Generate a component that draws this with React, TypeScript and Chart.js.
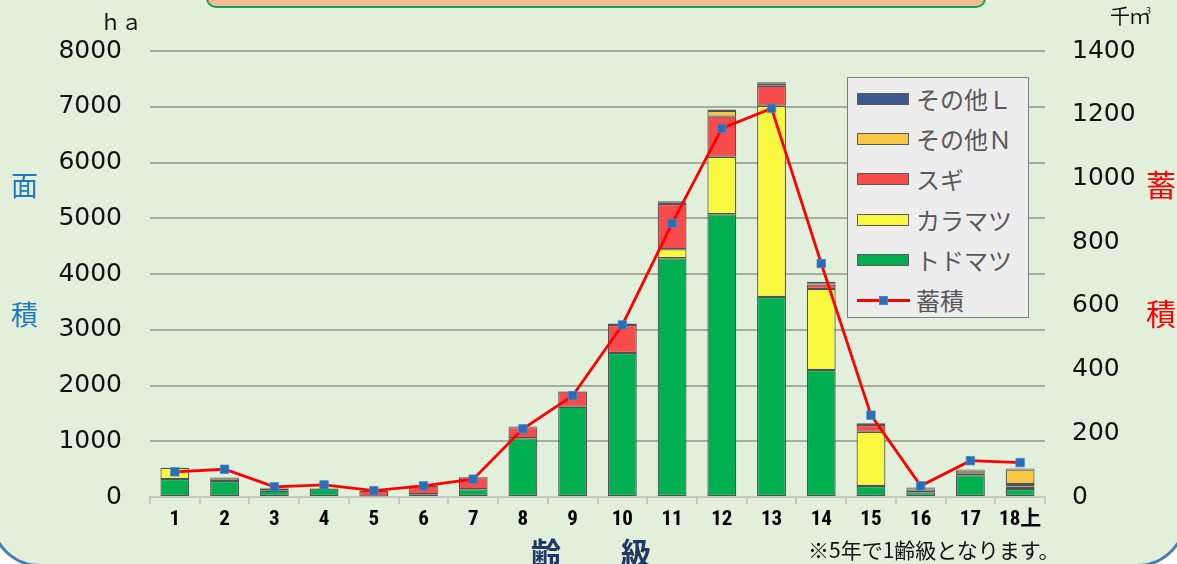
import React, { useEffect, useRef } from 'react';
import { Chart, registerables } from 'chart.js';

Chart.register(...registerables);

// ---- data ----
const categories = ['1', '2', '3', '4', '5', '6', '7', '8', '9', '10', '11', '12', '13', '14', '15', '16', '17', '18上'];
const todomatsu = [323, 287, 113, 150, 12, 50, 138, 1053, 1620, 2583, 4282, 5071, 3587, 2278, 197, 85, 389, 143];
const karamatsu = [200, 50, 0, 0, 0, 0, 0, 0, 0, 0, 161, 1033, 3431, 1453, 974, 50, 0, 45];
const sugi = [0, 0, 40, 0, 100, 150, 215, 200, 270, 500, 813, 718, 359, 80, 120, 20, 35, 45];
const otherN = [0, 0, 0, 0, 0, 0, 0, 0, 0, 0, 20, 100, 43, 25, 0, 0, 50, 260];
const otherL = [0, 15, 15, 6, 0, 10, 6, 10, 6, 30, 30, 30, 20, 25, 30, 15, 20, 20];
const stock = [79, 87, 32, 38, 20, 35, 56, 214, 318, 540, 859, 1157, 1220, 733, 257, 35, 114, 108];

const areaMax = 8000;
const areaStep = 1000;
const stockMax = 1400;
const stockStep = 200;

const seriesNames = ['トドマツ', 'カラマツ', 'スギ', 'その他Ｎ', 'その他Ｌ', '蓄積'];

// ---- styles ----
const COLORS = {
  green: '#00B050',
  yellow: '#F8F840',
  red: '#F84B4B',
  orange: '#F6C843',
  navy: '#3E5A8C',
  line: '#FF0000',
  marker: '#2A6DB5',
};
const BG = '#E2EFDA';
const JP = "'Noto Sans CJK JP', 'Noto Sans', sans-serif";

export default function App() {
  const canvasRef = useRef<HTMLCanvasElement | null>(null);

  useEffect(() => {
    const canvas = canvasRef.current;
    if (!canvas) return;
    const barDs = (label: string, data: number[], color: string) => ({
      type: 'bar' as const,
      label,
      data,
      backgroundColor: color,
      borderColor: '#525252',
      borderWidth: 1.2,
      borderSkipped: false as const,
      yAxisID: 'y',
      order: 1,
      barPercentage: 0.58,
      categoryPercentage: 1,
    });
    const chart = new Chart(canvas, {
      type: 'bar',
      data: {
        labels: categories,
        datasets: [
          {
            type: 'line',
            label: seriesNames[5],
            data: stock,
            yAxisID: 'y1',
            borderColor: COLORS.line,
            borderWidth: 2.8,
            pointStyle: 'rect',
            pointRadius: 6,
            pointBackgroundColor: COLORS.marker,
            pointBorderColor: 'rgba(70,140,215,0.8)',
            pointBorderWidth: 1,
            order: 0,
            tension: 0,
          } as any,
          barDs(seriesNames[0], todomatsu, COLORS.green),
          barDs(seriesNames[1], karamatsu, COLORS.yellow),
          barDs(seriesNames[2], sugi, COLORS.red),
          barDs(seriesNames[3], otherN, COLORS.orange),
          barDs(seriesNames[4], otherL, COLORS.navy),
        ],
      },
      options: {
        responsive: false,
        animation: false,
        devicePixelRatio: 1,
        layout: { padding: { top: 51, left: 0, right: 0, bottom: 0 } },
        plugins: { legend: { display: false }, tooltip: { enabled: false } },
        scales: {
          x: {
            stacked: true,
            grid: {
              offset: true,
              drawOnChartArea: false,
              drawTicks: true,
              tickLength: 7,
              color: '#C4C8C0',
              lineWidth: 2,
            },
            border: { display: true, color: '#C4C8C0', width: 2 },
            ticks: {
              color: '#000',
              padding: 3,
              maxRotation: 0,
              autoSkip: false,
              font: {
                family: "'Liberation Sans Narrow', 'Roboto Condensed', 'DejaVu Sans Condensed', 'Noto Sans CJK JP', sans-serif",
                size: 21,
                weight: 'bold',
              },
            },
            afterFit: (s: any) => { s.height = 67; },
          },
          y: {
            stacked: true,
            position: 'left',
            min: 0,
            max: areaMax,
            ticks: {
              stepSize: areaStep,
              color: '#111',
              padding: 28,
              font: { family: "'DejaVu Sans', sans-serif", size: 25 },
              callback: (v: any) => String(v),
            },
            grid: {
              color: (ctx: any) => (ctx.tick && ctx.tick.value === 0 ? 'rgba(0,0,0,0)' : '#A4AD9E'),
              lineWidth: 2,
              drawTicks: false,
            },
            border: { display: false },
            afterFit: (s: any) => { s.width = 150; },
          },
          y1: {
            position: 'right',
            min: 0,
            max: stockMax,
            ticks: {
              stepSize: stockStep,
              color: '#111',
              padding: 27,
              font: { family: "'DejaVu Sans', sans-serif", size: 25 },
              callback: (v: any) => String(v),
            },
            grid: { display: false, drawTicks: false },
            border: { display: false },
            afterFit: (s: any) => { s.width = 132; },
          },
        },
      } as any,
    });
    return () => chart.destroy();
  }, []);

  const legendItems = [
    { label: seriesNames[4], color: COLORS.navy },
    { label: seriesNames[3], color: COLORS.orange },
    { label: seriesNames[2], color: COLORS.red },
    { label: seriesNames[1], color: COLORS.yellow },
    { label: seriesNames[0], color: COLORS.green },
  ];

  return (
    <div style={{ position: 'fixed', left: 0, top: 0, width: 1177, height: 564, background: '#fff', overflow: 'hidden' }}>
      <div
        style={{
          position: 'absolute', left: -10, top: -60, width: 1197, height: 627,
          boxSizing: 'border-box', border: '3px solid #4A7EB0', borderRadius: 50, background: BG,
        }}
      />
      <div
        style={{
          position: 'absolute', left: 206, top: -30, width: 780, height: 38,
          boxSizing: 'border-box', border: '2.5px solid #18A04C', borderRadius: 10, background: '#F6BC96',
        }}
      />
      <canvas ref={canvasRef} width={1177} height={564} style={{ position: 'absolute', left: 0, top: 0, width: 1177, height: 564 }} />

      {/* axis unit labels */}
      <div style={{ position: 'absolute', left: 100, top: 9, fontFamily: JP, fontSize: 21, lineHeight: '24px', color: '#111' }}>ｈａ</div>
      <div style={{ position: 'absolute', left: 1110, top: 4, fontFamily: JP, fontSize: 20, lineHeight: '24px', color: '#111', whiteSpace: 'nowrap' }}>
        千ｍ<span style={{ fontSize: 9, position: 'relative', top: -10, left: -4 }}>3</span>
      </div>

      {/* axis titles */}
      <div style={{ position: 'absolute', left: 11, top: 168, fontFamily: JP, fontSize: 27, lineHeight: '34px', color: '#2277C0' }}>面</div>
      <div style={{ position: 'absolute', left: 11, top: 297, fontFamily: JP, fontSize: 27, lineHeight: '34px', color: '#2277C0' }}>積</div>
      <div style={{ position: 'absolute', left: 1146, top: 165, fontFamily: JP, fontSize: 30, lineHeight: '36px', color: '#FF0000' }}>蓄</div>
      <div style={{ position: 'absolute', left: 1146, top: 294, fontFamily: JP, fontSize: 30, lineHeight: '36px', color: '#FF0000' }}>積</div>

      {/* x axis title and note */}
      <div style={{ position: 'absolute', left: 531, top: 532, fontFamily: JP, fontSize: 30, fontWeight: 'bold', lineHeight: '38px', color: '#1F3864', whiteSpace: 'pre' }}>齢　　級</div>
      <div style={{ position: 'absolute', left: 808, top: 536, fontFamily: JP, fontSize: 21, lineHeight: '26px', color: '#111', whiteSpace: 'nowrap' }}>※5年で1齢級となります。</div>

      {/* legend */}
      <div
        style={{
          position: 'absolute', left: 847, top: 77, width: 182, height: 241,
          boxSizing: 'border-box', border: '1.5px solid #7F7F7F', background: '#EDEDED',
        }}
      >
        {legendItems.map((it, i) => (
          <div key={it.label} style={{ position: 'absolute', left: 0, top: 4 + i * 40.2, height: 34, width: 180 }}>
            <div style={{ position: 'absolute', left: 9, top: 11, width: 52, height: 12, boxSizing: 'border-box', border: '1px solid #5A5A5A', background: it.color }} />
            <div style={{ position: 'absolute', left: 68, top: 0, fontFamily: JP, fontSize: 24, lineHeight: '34px', color: '#595959', whiteSpace: 'nowrap' }}>{it.label}</div>
          </div>
        ))}
        <div style={{ position: 'absolute', left: 0, top: 4 + 5 * 40.2, height: 34, width: 180 }}>
          <div style={{ position: 'absolute', left: 9, top: 16, width: 53, height: 3, background: COLORS.line }} />
          <div style={{ position: 'absolute', left: 31, top: 13, width: 9, height: 9, background: COLORS.marker, boxSizing: 'border-box', border: '1px solid rgba(70,140,215,0.8)' }} />
          <div style={{ position: 'absolute', left: 68, top: 0, fontFamily: JP, fontSize: 24, lineHeight: '34px', color: '#595959', whiteSpace: 'nowrap' }}>{seriesNames[5]}</div>
        </div>
      </div>
    </div>
  );
}
